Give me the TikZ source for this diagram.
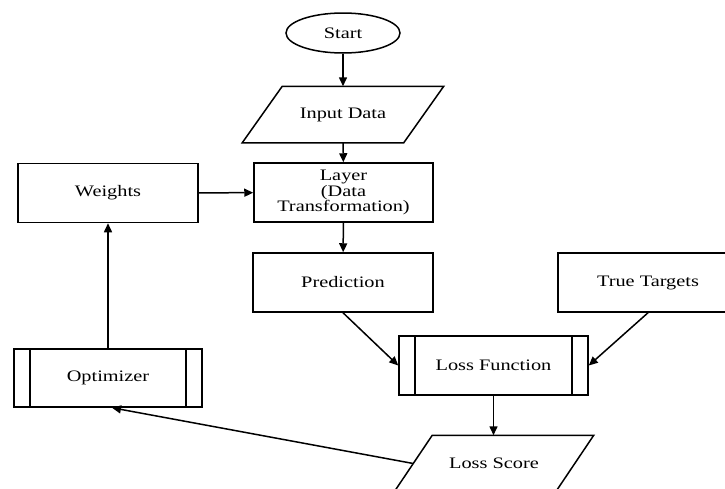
\documentclass[tikz,border=0pt]{standalone}
\usepackage{fontspec}
\setmainfont{Liberation Serif}[FakeStretch=1.27]
\usetikzlibrary{shapes.geometric,arrows.meta}

\tikzset{
  flow/.style={draw, line width=1.5pt, align=center, inner sep=2pt,
    font=\fontsize{16}{15.5}\selectfont},
  procbox/.style={flow, rectangle, minimum width=180pt, minimum height=59pt},
  % text holder for the slanted input/output boxes; outline drawn separately
  iobox/.style={flow, draw=none, rectangle, minimum width=160pt, minimum height=55pt},
  outline/.style={line width=1.5pt, line join=miter},
  termbox/.style={flow, ellipse, minimum width=114pt, minimum height=40pt},
  subproc/.style={flow, rectangle, minimum width=#1, minimum height=59pt,
    path picture={
      \draw[line width=1.5pt]
        ([xshift=16pt]path picture bounding box.north west) --
        ([xshift=16pt]path picture bounding box.south west)
        ([xshift=-16pt]path picture bounding box.north east) --
        ([xshift=-16pt]path picture bounding box.south east);}},
  link/.style={line width=1.5pt, -{Triangle[length=9pt,width=8pt]}}
}

\begin{document}
\begin{tikzpicture}[x=1pt, y=-1pt]
  \useasboundingbox (0,0) rectangle (725,488);
  \clip (0,0) rectangle (725,488);

  % main column
  \node[termbox] (start) at (343,33) {Start};
  \node[iobox] (input) at (343,114.5) {Input Data};
  \draw[outline] ([xshift=20pt]input.north west) -- ([xshift=20pt]input.north east)
    -- ([xshift=-20pt]input.south east) -- ([xshift=-20pt]input.south west) -- cycle;
  \node[procbox, minimum width=179pt] (layer) at (343.5,192.5) {Layer\\(Data\\Transformation)};
  \node[procbox] (pred) at (343,282.5) {Prediction};
  \node[procbox] (targets) at (648,282.5) {True Targets};
  \node[subproc=189pt] (loss) at (493.5,365.5) {Loss Function};
  \node[iobox] (score) at (494,463.5) {Loss Score};
  \draw[outline] ([xshift=19pt]score.north west) -- ([xshift=19pt]score.north east)
    -- ([xshift=-19pt]score.south east) -- ([xshift=-19pt]score.south west) -- cycle;

  % feedback column
  \node[procbox] (weights) at (108,193) {Weights};
  \node[subproc=188pt, minimum height=58pt] (opt) at (108,378) {Optimizer};

  % connectors
  \draw[link] (start) -- (input);
  \draw[link] (input) -- (layer);
  \draw[link] (layer) -- (pred);
  \draw[link] (weights) -- (layer);
  \draw[link] (pred.south) -- (loss.west);
  \draw[link] (targets.south) -- (loss.east);
  \draw[link] (loss) -- (score.north -| loss);
  \draw[link] (score.west) -- ([xshift=4pt]opt.south);
  \draw[link] (opt) -- (weights);
\end{tikzpicture}
\end{document}
